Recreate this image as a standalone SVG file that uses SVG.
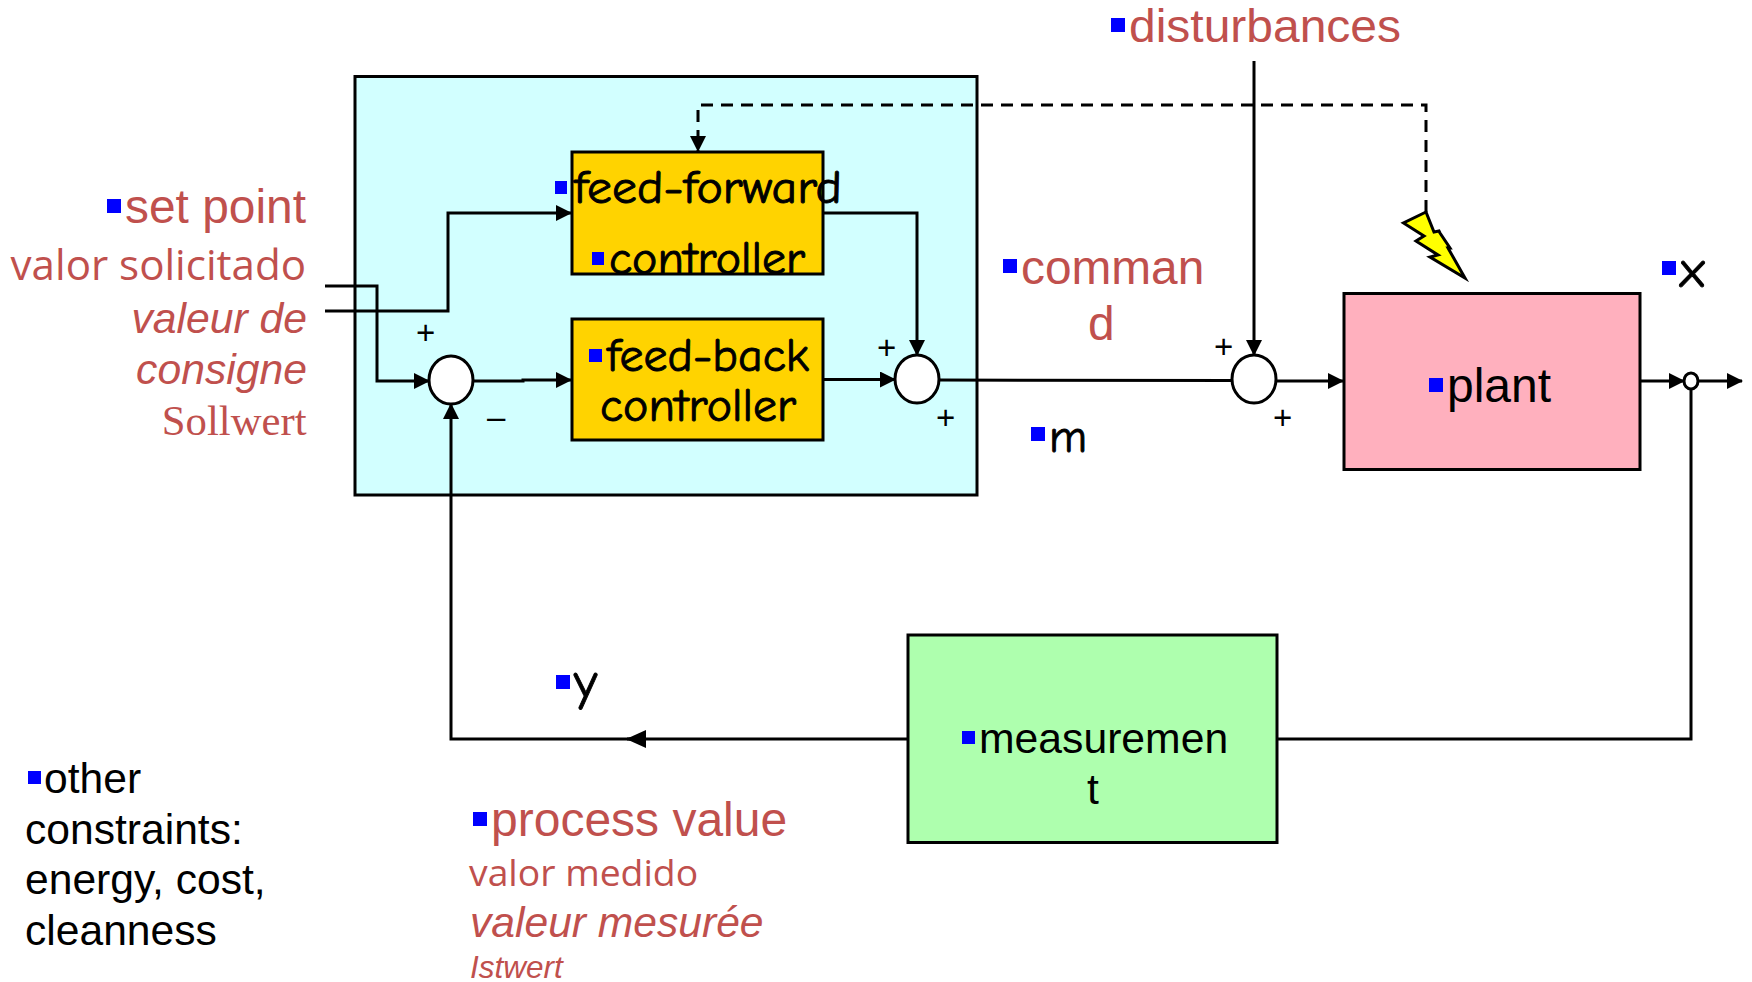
<svg xmlns="http://www.w3.org/2000/svg" width="1752" height="982" viewBox="0 0 1752 982">
<style>
.box{stroke:#000;stroke-width:3}
.ln{fill:none;stroke:#000;stroke-width:3}
.sum{fill:#fff;stroke:#000;stroke-width:3}
.b{fill:#00f}
.r{fill:#C0504D;font-family:"Liberation Sans",Arial,sans-serif}
.k{fill:#000;font-family:"Liberation Sans",Arial,sans-serif}
.c{fill:#000;stroke:#000;stroke-width:.9px;font-family:"Comic Sans MS","Comic Neue",cursive}
.o{fill:#C0504D;font-family:"Open Sans",sans-serif}
.p{fill:#000;font-family:"Liberation Sans",Arial,sans-serif;font-size:33px}
</style>
<defs>
<marker id="a" viewBox="0 0 16 16" refX="15" refY="8" markerWidth="16" markerHeight="16" markerUnits="userSpaceOnUse" orient="auto"><path d="M0 0L16 8L0 16Z" fill="#000"/></marker>
<marker id="w" viewBox="0 0 20 18" refX="19" refY="9" markerWidth="20" markerHeight="18" markerUnits="userSpaceOnUse" orient="auto"><path d="M0 0L20 9L0 18Z" fill="#000"/></marker>
</defs>
<rect id="outer" class="box" x="355" y="76.500" width="622" height="418.500" fill="#D2FFFF"/>
<g id="connectors">
<path class="ln" d="M325 286H377V381H429" marker-end="url(#a)"/>
<path class="ln" d="M325 311H448V213H571" marker-end="url(#a)"/>
<path class="ln" d="M474 381H523V380H571" marker-end="url(#a)"/>
<path class="ln" d="M823 213H917V355" marker-end="url(#a)"/>
<path class="ln" d="M823 379.500H895" marker-end="url(#a)"/>
<path class="ln" d="M939 380L1232 380.500"/>
<path class="ln" d="M1254 61V355" marker-end="url(#a)"/>
<path class="ln" d="M1276 381H1343" marker-end="url(#a)"/>
<path class="ln" d="M1640 381H1684" marker-end="url(#a)"/>
<path class="ln" d="M1698 381H1742" marker-end="url(#a)"/>
<path class="ln" d="M1691 388V739H1277"/>
<path class="ln" d="M908 739H627" marker-end="url(#w)"/>
<path class="ln" d="M640 739H451V404" marker-end="url(#a)"/>
<path class="ln" stroke-dasharray="12 8" d="M1426 212V105H698V151" marker-end="url(#a)"/>
</g>
<g id="feed-forward">
<rect class="box" x="572" y="152" width="251" height="122" fill="#FFD300"/>
<rect class="b" x="555" y="181" width="12" height="13"/>
<text class="c" x="574" y="203" font-size="46" textLength="268" lengthAdjust="spacingAndGlyphs">feed-forward</text>
<rect class="b" x="592" y="252" width="12" height="13"/>
<text class="c" x="609" y="274" font-size="46" textLength="196" lengthAdjust="spacingAndGlyphs">controller</text>
</g>
<g id="feed-back">
<rect class="box" x="572" y="319" width="251" height="121" fill="#FFD300"/>
<rect class="b" x="589" y="349" width="13" height="13"/>
<text class="c" x="607" y="371" font-size="46" textLength="202" lengthAdjust="spacingAndGlyphs">feed-back</text>
<text class="c" x="600" y="421" font-size="46" textLength="196" lengthAdjust="spacingAndGlyphs">controller</text>
</g>
<g id="sum1"><ellipse class="sum" cx="451" cy="380" rx="22" ry="24"/></g>
<g id="sum2"><ellipse class="sum" cx="917" cy="379" rx="22" ry="24"/></g>
<g id="sum3"><ellipse class="sum" cx="1254" cy="379" rx="22" ry="24"/></g>
<g id="junction"><ellipse class="sum" cx="1691" cy="381" rx="7" ry="8"/></g>
<g id="plant">
<rect class="box" x="1344" y="293.500" width="296" height="176" fill="#FFB0BE"/>
<rect class="b" x="1429" y="378" width="14" height="14"/>
<text class="k" x="1447" y="402" font-size="48">plant</text>
</g>
<g id="measurement">
<rect class="box" x="908" y="635" width="369" height="207.500" fill="#AEFFAE"/>
<rect class="b" x="962" y="731" width="13" height="13"/>
<text class="k" x="979" y="753" font-size="42.700">measuremen</text>
<text class="k" x="1087" y="804" font-size="42.700">t</text>
</g>
<g id="lightning">
<path d="M1426 212L1403.500 223L1424 236L1416 241L1438 255L1430 257L1465 278L1448 248L1450 248L1440 233L1439 231L1434 232Z" fill="#FF0" stroke="#000" stroke-width="3"/>
</g>
<g id="set-point">
<rect class="b" x="107" y="199" width="14" height="14"/>
<text class="r" x="125" y="223" font-size="48" textLength="181" lengthAdjust="spacingAndGlyphs">set point</text>
<text class="o" x="306" y="280" font-size="42.100" text-anchor="end">valor solicitado</text>
<text class="r" x="307" y="333" font-size="42.700" font-style="italic" text-anchor="end">valeur de</text>
<text class="r" x="307" y="384" font-size="42.700" font-style="italic" text-anchor="end">consigne</text>
<text x="306.500" y="435" font-size="42.700" fill="#C0504D" font-family="Liberation Serif,serif" text-anchor="end">Sollwert</text>
</g>
<g id="disturbances">
<rect class="b" x="1111" y="18" width="14" height="14"/>
<text class="r" x="1129" y="42" font-size="46" textLength="272" lengthAdjust="spacingAndGlyphs">disturbances</text>
</g>
<g id="command">
<rect class="b" x="1003" y="259" width="14" height="14"/>
<text class="r" x="1021" y="284" font-size="47.800">comman</text>
<text class="r" x="1088" y="340" font-size="47.800">d</text>
</g>
<g id="m"><rect class="b" x="1031" y="427" width="14" height="14"/><text class="c" x="1049" y="452" font-size="46">m</text></g>
<g id="x"><rect class="b" x="1662" y="261" width="14" height="14"/><text class="c" x="1680" y="287" font-size="52">x</text></g>
<g id="y"><rect class="b" x="556" y="675" width="14" height="14"/><text class="c" x="574" y="699" font-size="52">y</text></g>
<g id="process-value">
<rect class="b" x="473" y="812" width="14" height="14"/>
<text class="r" x="491" y="836" font-size="48">process value</text>
<text class="o" x="469" y="886" font-size="37.300">valor medido</text>
<text class="r" x="470" y="937" font-size="42.600" font-style="italic">valeur mesurée</text>
<text class="r" x="470" y="978" font-size="31.500" font-style="italic">Istwert</text>
</g>
<g id="constraints">
<rect class="b" x="28" y="771" width="13" height="13"/>
<text class="k" x="44" y="793" font-size="42.600">other</text>
<text class="k" x="25" y="844" font-size="42.600">constraints:</text>
<text class="k" x="25" y="894" font-size="42.600">energy, cost,</text>
<text class="k" x="25" y="945" font-size="42.600">cleanness</text>
</g>
<g id="signs">
<text class="p" x="416" y="344">+</text>
<text class="p" x="487" y="428">–</text>
<text class="p" x="877" y="359">+</text>
<text class="p" x="936" y="429">+</text>
<text class="p" x="1214" y="358">+</text>
<text class="p" x="1273" y="429">+</text>
</g>
</svg>
